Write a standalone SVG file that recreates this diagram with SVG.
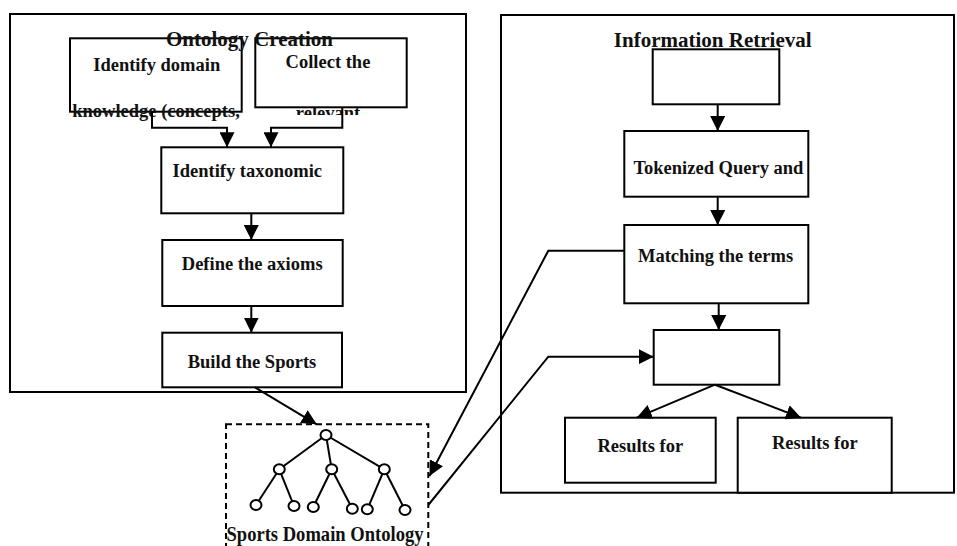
<svg xmlns="http://www.w3.org/2000/svg" width="957" height="546" viewBox="0 0 957 546">
<style>
.box{fill:#fff;stroke:#000;stroke-width:2}
.frame{fill:none;stroke:#000;stroke-width:2}
.t{font-family:"Liberation Serif","Times New Roman",serif;font-weight:bold;font-size:18.5px;fill:#111;text-anchor:middle}
.title{font-family:"Liberation Serif","Times New Roman",serif;font-weight:bold;font-size:21px;fill:#111;text-anchor:middle}
.c{fill:none;stroke:#000;stroke-width:2}
.node{fill:#fff;stroke:#000;stroke-width:2}
</style>
<defs>
<marker id="ah" markerUnits="userSpaceOnUse" markerWidth="15" markerHeight="15" refX="15" refY="7.5" orient="auto">
<path d="M0,0 L15,7.5 L0,15 z" fill="#000"/>
</marker>
<clipPath id="clipRel"><rect x="280" y="107.5" width="100" height="7.5"/></clipPath>
</defs>
<rect width="957" height="546" fill="#fff"/>

<g id="ontology-creation">
<rect class="frame" x="10" y="14" width="456" height="378"/>
</g>
<g id="information-retrieval">
<rect class="frame" x="501" y="15" width="453" height="477.7"/>
<text class="title" x="712.7" y="46.5">Information Retrieval</text>
</g>

<g id="identify-domain">
<rect class="box" x="70" y="38.3" width="171.7" height="73.4"/>
<text class="t" x="156.7" y="70.7">Identify domain</text>
<text class="t" x="156" y="117">knowledge (concepts,</text>
</g>
<g id="collect">
<rect class="box" x="255.3" y="38.3" width="151.4" height="69"/>
<text class="t" x="328" y="68.3">Collect the</text>
<text class="t" x="328" y="119" clip-path="url(#clipRel)">relevant</text>
</g>
<text class="title" x="249.5" y="45.7">Ontology Creation</text>

<g id="identify-taxonomic">
<rect class="box" x="161.3" y="147.3" width="182" height="66"/>
<text class="t" x="247.3" y="176.7">Identify taxonomic</text>
</g>
<g id="define-axioms">
<rect class="box" x="162.3" y="240" width="180.4" height="66"/>
<text class="t" x="252.2" y="270">Define the axioms</text>
</g>
<g id="build-sports">
<rect class="box" x="162.3" y="332.7" width="179.7" height="54.6"/>
<text class="t" x="252" y="368.3">Build the Sports</text>
</g>

<g id="query">
<rect class="box" x="652.7" y="49.3" width="126.6" height="55"/>
</g>
<g id="tokenized">
<rect class="box" x="624.3" y="131" width="184" height="65.7"/>
<text class="t" x="718.4" y="174">Tokenized Query and</text>
</g>
<g id="matching">
<rect class="box" x="624.3" y="225" width="184" height="78.3"/>
<text class="t" x="715.5" y="261.7">Matching the terms</text>
</g>
<g id="ranking">
<rect class="box" x="653.7" y="330" width="125.6" height="54.7"/>
</g>
<g id="results-1">
<rect class="box" x="565" y="417.7" width="150.7" height="65"/>
<text class="t" x="640.3" y="451.7">Results for</text>
</g>
<g id="results-2">
<rect class="box" x="737.7" y="417.7" width="154" height="75"/>
<text class="t" x="814.8" y="449.3">Results for</text>
</g>

<g id="sports-domain-ontology">
<rect x="226" y="424.3" width="202.3" height="140" fill="none" stroke="#000" stroke-width="2" stroke-dasharray="6,4"/>
<g stroke="#000" stroke-width="2">
<line x1="326" y1="435" x2="279.3" y2="469.3"/>
<line x1="326" y1="435" x2="331.7" y2="469.3"/>
<line x1="326" y1="435" x2="384.3" y2="469.3"/>
<line x1="279.3" y1="469.3" x2="256" y2="505"/>
<line x1="279.3" y1="469.3" x2="294" y2="506"/>
<line x1="331.7" y1="469.3" x2="313.3" y2="507"/>
<line x1="331.7" y1="469.3" x2="352.3" y2="508.7"/>
<line x1="384.3" y1="469.3" x2="367.3" y2="509.3"/>
<line x1="384.3" y1="469.3" x2="405" y2="510"/>
</g>
<ellipse class="node" cx="326" cy="435" rx="5.5" ry="5"/>
<ellipse class="node" cx="279.3" cy="469.3" rx="5.5" ry="5"/>
<ellipse class="node" cx="331.7" cy="469.3" rx="5.5" ry="5"/>
<ellipse class="node" cx="384.3" cy="469.3" rx="5.5" ry="5"/>
<ellipse class="node" cx="256" cy="505" rx="5.5" ry="5"/>
<ellipse class="node" cx="294" cy="506" rx="5.5" ry="5"/>
<ellipse class="node" cx="313.3" cy="507" rx="5.5" ry="5"/>
<ellipse class="node" cx="352.3" cy="508.7" rx="5.5" ry="5"/>
<ellipse class="node" cx="367.3" cy="509.3" rx="5.5" ry="5"/>
<ellipse class="node" cx="405" cy="510" rx="5.5" ry="5"/>
<text class="title" x="325" y="541" font-size="19" textLength="197" lengthAdjust="spacingAndGlyphs">Sports Domain Ontology</text>
</g>

<g id="connectors">
<polyline class="c" points="152,111.7 152,127.7 227,127.7 227,147.3" marker-end="url(#ah)"/>
<polyline class="c" points="342.3,107.3 342.3,127.7 271,127.7 271,147.3" marker-end="url(#ah)"/>
<line class="c" x1="251.3" y1="213.3" x2="251.3" y2="240" marker-end="url(#ah)"/>
<line class="c" x1="251.3" y1="306" x2="251.3" y2="332.7" marker-end="url(#ah)"/>
<line class="c" x1="717.7" y1="104.3" x2="717.7" y2="131" marker-end="url(#ah)"/>
<line class="c" x1="717.7" y1="196.7" x2="717.7" y2="225" marker-end="url(#ah)"/>
<line class="c" x1="718.7" y1="303.3" x2="718.7" y2="330" marker-end="url(#ah)"/>
<line class="c" x1="715" y1="384.7" x2="636.7" y2="417.7" marker-end="url(#ah)"/>
<line class="c" x1="715" y1="384.7" x2="801" y2="417.7" marker-end="url(#ah)"/>
<line class="c" x1="255" y1="387.3" x2="316.7" y2="424.3" marker-end="url(#ah)"/>
<polyline class="c" points="624.3,250.7 548.3,250.7 429.5,476" marker-end="url(#ah)"/>
<polyline class="c" points="428.3,505 548.3,356.7 653.7,356.7" marker-end="url(#ah)"/>
</g>
</svg>
